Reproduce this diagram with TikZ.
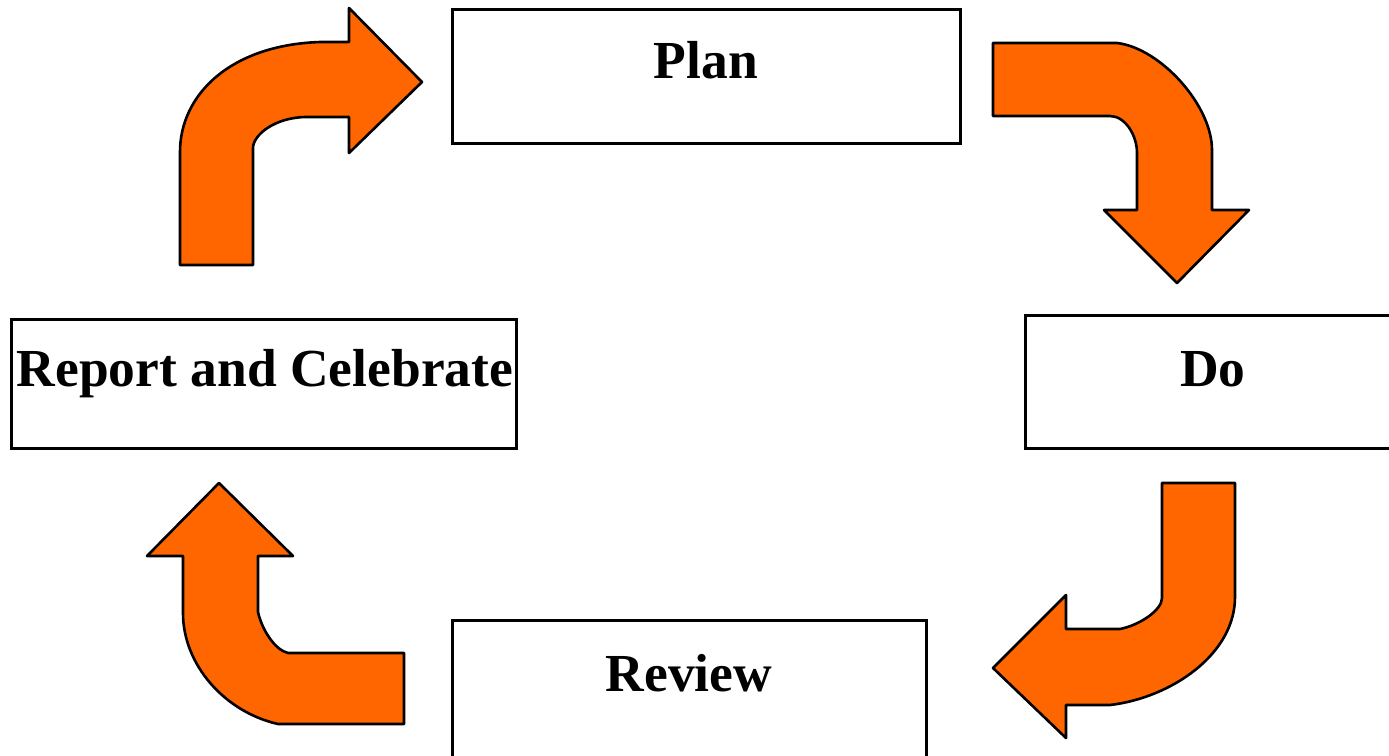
\documentclass[tikz,border=0pt]{standalone}
\usepackage{fontspec}
\setmainfont{Liberation Serif}
\definecolor{arroworange}{HTML}{FF6600}
\begin{document}
\begin{tikzpicture}[x=1pt,y=-1pt,
  box/.style={draw=black,line width=3pt,fill=white,rectangle,inner sep=0pt},
  lbl/.style={anchor=base,inner sep=0pt,font=\fontsize{53.5}{60}\selectfont\bfseries},
  blockarrow/.style={draw=black,line width=2.6pt,fill=arroworange,line join=round}]
\useasboundingbox (0,0) rectangle (1389,755);
\begin{scope}
\clip (0,0) rectangle (1389,755);
% boxes
\node[box,minimum width=508pt,minimum height=134pt] (plan) at (706,76) {};
\node[box,minimum width=376pt,minimum height=133pt] (do) at (1213,381.5) {};
\node[box,minimum width=505pt,minimum height=129pt] (report) at (263.5,383.5) {};
\node[box,minimum width=474pt,minimum height=140pt] (review) at (689,690) {};
% labels
\node[lbl] (plantxt) at (706,78) {Plan};
\node[lbl] (dotxt) at (1213,386) {Do};
\node[lbl] (reporttxt) at (265,386) {Report and Celebrate};
\node[lbl] (reviewtxt) at (689,691) {Review};
% arrow: Report -> Plan
\draw[blockarrow] (180,265) -- (180,152) .. controls (180,95) and (230,45) .. (320,42)
  -- (349,42) -- (349,8) -- (422,82) -- (349,153) -- (349,117) -- (307,117)
  .. controls (275,117) and (253,135) .. (253,148) -- (253,265) -- cycle;
% arrow: Plan -> Do
\draw[blockarrow] (993,43) -- (1117,43) .. controls (1160,48) and (1212,105) .. (1212,150)
  -- (1212,210) -- (1249,210) -- (1177,283) -- (1104,210) -- (1137,210) -- (1137,153)
  .. controls (1137,135) and (1125,116) .. (1110,116) -- (993,116) -- cycle;
% arrow: Do -> Review
\draw[blockarrow] (1162,483) -- (1235,483) -- (1235,597) .. controls (1235,655) and (1170,698) .. (1110,705)
  -- (1066,705) -- (1066,738) -- (993,668) -- (1066,595) -- (1066,629) -- (1120,629)
  .. controls (1140,625) and (1162,610) .. (1162,598) -- cycle;
% arrow: Review -> Report
\draw[blockarrow] (404,653) -- (404,724) -- (278,724) .. controls (225,712) and (183,665) .. (183,613)
  -- (183,556) -- (147,556) -- (219,483) -- (293,556) -- (258,556) -- (258,612)
  .. controls (262,630) and (275,650) .. (288,653) -- cycle;
\end{scope}
\end{tikzpicture}
\end{document}
